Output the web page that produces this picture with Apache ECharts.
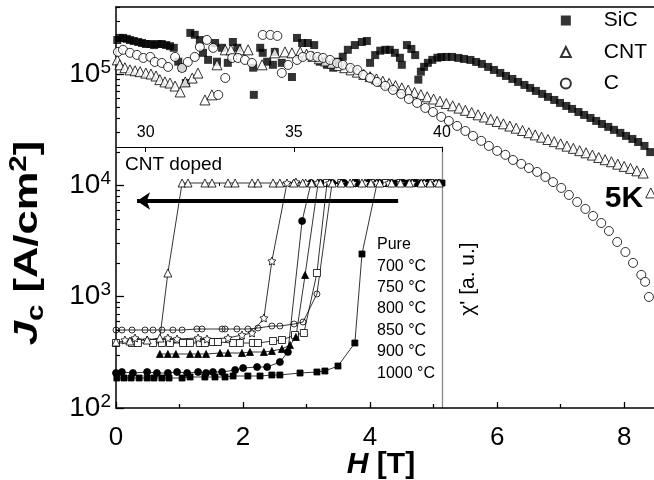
<!DOCTYPE html>
<html>
<head>
<meta charset="utf-8">
<script src="https://cdn.jsdelivr.net/npm/echarts@6/dist/echarts.min.js"></script>
<style>
  html, body { margin: 0; padding: 0; background: #fff; }
  #chart { width: 654px; height: 480px; }
</style>
</head>
<body>
<div id="chart"></div>
<script>
// ---- main panel: Jc(H) at 5 K, [H (T), Jc (A/cm2)]
var sicData = [
  [0.02,202000],[0.06,211000],[0.11,211000],[0.17,207000],[0.22,202000],[0.28,198000],[0.35,194000],[0.41,190000],[0.47,186000],[0.54,186000],
  [0.60,182000],[0.66,186000],[0.72,186000],[0.79,182000],[0.85,178000],[0.91,172000],[0.98,129000],[1.04,114000],[1.10,83000],[1.17,234000],
  [1.24,225000],[1.32,202000],[1.37,155000],[1.45,134000],[1.56,190000],[1.59,129000],[1.67,172000],[1.76,126000],[1.84,194000],[1.91,172000],
  [2.16,114000],[2.17,65000],[2.27,172000],[2.31,155000],[2.38,129000],[2.47,121000],[2.50,158000],[2.61,126000],[2.77,94000],[2.85,211000],
  [2.93,190000],[3.02,190000],[3.12,182000],[3.21,129000],[3.32,121000],[3.42,114000],[3.50,129000],[3.57,143000],[3.65,165000],[3.76,182000],
  [3.87,194000],[3.95,198000],[4.00,126000],[4.08,148000],[4.16,162000],[4.24,165000],[4.31,165000],[4.39,155000],[4.47,140000],[4.50,121000],
  [4.58,182000],[4.65,168000],[4.71,148000],[4.76,89000],[4.80,105000],[4.85,116000],[4.91,126000],[4.98,134000],[5.06,140000],[5.12,142000],
  [5.20,142400],[5.29,142400],[5.39,139500],[5.48,136600],[5.58,133800],[5.67,128400],[5.76,123200],[5.86,115800],[5.95,108800],[6.05,102300],
  [6.14,96100],[6.24,90300],[6.33,84900],[6.43,79800],[6.52,75000],[6.61,70500],[6.71,66300],[6.80,62300],[6.90,58500],[6.99,55000],
  [7.09,51700],[7.18,48600],[7.28,45600],[7.37,42900],[7.47,40300],[7.56,37900],[7.65,35600],[7.75,33500],[7.84,31500],[7.94,29600],
  [8.03,27800],[8.13,26100],[8.22,24500],[8.32,22600],[8.41,19900]
];
var cntData = [
  [0.02,134000],[0.06,121000],[0.14,114000],[0.22,109000],[0.30,107000],[0.38,105000],[0.47,102000],[0.55,100000],[0.63,96000],[0.69,89000],
  [0.77,85000],[0.85,83000],[0.93,78000],[1.01,69000],[1.09,85000],[1.20,92000],[1.29,102000],[1.40,58500],[1.51,65000],[1.59,121000],
  [1.72,165000],[1.81,165000],[1.95,165000],[2.08,165000],[2.30,121000],[2.50,155000],[2.66,158000],[2.77,155000],
  [2.9,158000],[3.0,151000],[3.1,144000],[3.2,137000],[3.3,131000],[3.4,125000],[3.5,119000],[3.6,114000],[3.7,109000],[3.8,104000],
  [3.9,99300],[4.0,94700],[4.1,90400],[4.2,86300],[4.3,82400],[4.4,78700],[4.5,75100],[4.6,71700],[4.7,68400],[4.8,65300],
  [4.9,62400],[5.0,59600],[5.1,56900],[5.2,54300],[5.3,51800],[5.4,49400],[5.5,47200],[5.6,45100],[5.7,43000],[5.8,41100],
  [5.9,39200],[6.0,37500],[6.1,35700],[6.2,34100],[6.3,32600],[6.4,31100],[6.5,29700],[6.6,28400],[6.7,27100],[6.8,25800],
  [6.9,24700],[7.0,23600],[7.1,22500],[7.2,21500],[7.3,20500],[7.4,19600],[7.5,18700],[7.6,17800],[7.7,17000],[7.8,16300],
  [7.9,15500],[8.0,14800],[8.1,14200],[8.2,13500],[8.3,12900],[8.42,8550]
];
var cData = [
  [0.03,158000],[0.11,165000],[0.22,155000],[0.33,148500],[0.43,139500],[0.54,142400],[0.61,128400],[0.72,125800],[0.82,115800],[0.93,142400],
  [1.04,113400],[1.13,128400],[1.24,142400],[1.32,175100],[1.43,202500],[1.53,171600],[1.61,64900],[1.72,92200],[1.83,139500],[1.92,139500],
  [2.03,133800],[2.14,125800],[2.31,224500],[2.43,224500],[2.54,220000],[2.61,102300],[2.71,120700],[2.85,133800],[2.94,142400],[3.06,145400],
  [3.17,142400],[3.26,139500],[3.37,133800],[3.48,125800],[3.57,120700],[3.69,113400],[3.80,108800],[3.89,98100],[4.00,92200],[4.11,84900],
  [4.24,78200],[4.36,72000],[4.49,66300],[4.61,59700],[4.74,55000],[4.87,49600],[4.99,45600],[5.12,41200],[5.24,37900],[5.37,34200],
  [5.50,30800],[5.62,27800],[5.75,25100],[5.87,22600],[6.00,20400],[6.13,18800],[6.25,16900],[6.38,15600],[6.50,14300],[6.63,13200],
  [6.76,11900],[6.88,10700],[7.01,9480],[7.13,8200],[7.26,7090],[7.39,6140],[7.51,5310],[7.64,4590],[7.76,3890],[7.89,3100],
  [8.02,2520],[8.14,2010],[8.27,1570],[8.33,1360],[8.39,994]
];
var mainNames = ['SiC', 'CNT', 'C'];

// ---- inset: chi'(T), [T (K), chi' (a.u., 0 = normal state)]
var chiPure = [
  [29.03,-0.975],[29.27,-0.975],[29.51,-0.975],[29.78,-0.975],[30.05,-0.975],[30.28,-0.975],[30.55,-0.975],[30.79,-0.975],[31.23,-0.975],[31.50,-0.97],
  [32.00,-0.97],[32.34,-0.97],[32.68,-0.97],[32.95,-0.965],[33.45,-0.965],[33.86,-0.965],[34.26,-0.96],[34.53,-0.96],[35.21,-0.95],[35.78,-0.945],
  [36.05,-0.94],[36.49,-0.915],[37.06,-0.80],[37.30,-0.355],[37.81,0],[38.1,0],[38.5,0],[38.9,0],[39.3,0],[39.7,0],[40.0,0]
];
var chi700 = [
  [29.00,-0.735],[29.20,-0.735],[29.54,-0.735],[29.98,-0.735],[30.25,-0.735],[30.55,-0.735],[30.92,-0.735],[31.23,-0.735],[31.73,-0.73],[31.90,-0.73],
  [32.58,-0.73],[32.68,-0.73],[33.08,-0.73],[33.45,-0.73],[33.79,-0.725],[34.26,-0.715],[34.53,-0.715],[35.01,-0.705],[35.31,-0.695],[35.78,-0.555],
  [36.29,0],[36.7,0],[37.1,0],[37.5,0],[37.9,0],[38.3,0],[38.7,0],[39.1,0],[39.5,0],[39.9,0]
];
var chi750 = [
  [29.00,-0.80],[29.54,-0.80],[29.74,-0.80],[30.25,-0.80],[30.55,-0.80],[30.82,-0.80],[31.26,-0.80],[31.50,-0.80],[31.83,-0.80],[32.00,-0.80],
  [32.27,-0.795],[32.44,-0.795],[32.95,-0.80],[33.18,-0.80],[33.62,-0.80],[33.79,-0.80],[34.30,-0.79],[34.60,-0.785],[35.04,-0.76],[35.34,-0.75],
  [35.78,-0.45],[36.12,0],[36.6,0],[37.1,0],[37.6,0],[38.1,0],[38.6,0],[39.1,0],[39.6,0]
];
var chi800 = [
  [30.48,-0.855],[30.75,-0.855],[31.02,-0.855],[31.50,-0.855],[31.77,-0.855],[32.04,-0.855],[32.51,-0.85],[32.78,-0.85],[33.25,-0.85],[33.52,-0.845],
  [33.99,-0.845],[34.26,-0.84],[34.60,-0.83],[34.87,-0.81],[35.07,-0.77],[35.38,-0.46],[35.82,0],[36.2,0],[36.6,0],[37.0,0],
  [37.4,0],[37.8,0],[38.2,0],[38.6,0],[39.0,0],[39.4,0],[39.8,0]
];
var chi850 = [
  [29.00,-0.95],[29.20,-0.945],[29.57,-0.95],[30.05,-0.945],[30.38,-0.95],[30.75,-0.95],[31.06,-0.945],[31.40,-0.95],[31.77,-0.945],[32.04,-0.95],
  [32.27,-0.945],[32.58,-0.945],[33.02,-0.935],[33.29,-0.925],[33.76,-0.92],[34.10,-0.92],[34.53,-0.895],[34.80,-0.845],[35.28,-0.19],[35.58,0],
  [35.9,0],[36.3,0],[36.7,0],[37.1,0],[37.5,0],[37.9,0],[38.3,0],[38.7,0],[39.1,0],[39.5,0],[39.9,0]
];
var chi900 = [
  [29.30,-0.785],[29.64,-0.775],[30.05,-0.785],[30.75,-0.775],[31.06,-0.78],[31.77,-0.775],[32.07,-0.78],[32.78,-0.775],[33.25,-0.76],[33.59,-0.75],
  [33.99,-0.675],[34.26,-0.39],[34.77,0],[35.07,0.005],[35.4,0],[35.8,0],[36.2,0],[36.6,0],[37.0,0],[37.4,0],
  [37.8,0],[38.2,0],[38.6,0],[39.0,0],[39.4,0],[39.8,0]
];
var chi1000 = [
  [29.00,-0.795],[29.47,-0.79],[30.05,-0.785],[30.48,-0.775],[30.75,-0.45],[31.23,0],[31.43,0],[32.00,0],[32.24,0],[32.78,0],
  [33.02,0],[33.59,0],[33.79,0],[34.30,0],[34.53,0],[35.0,0],[35.3,0],[35.6,0],[35.9,0],[36.3,0],
  [36.6,0],[36.9,0],[37.3,0],[37.6,0],[37.9,0],[38.3,0],[38.6,0],[38.9,0],[39.3,0],[39.6,0],[39.9,0]
];
var insetLabels = ['Pure', '700 \u00B0C', '750 \u00B0C', '800 \u00B0C', '850 \u00B0C', '900 \u00B0C', '1000 \u00B0C'];

// ---- axes
var xTicks = [0, 2, 4, 6, 8];
var xMinorTicks = [1, 3, 5, 7];
var yTicks = [100, 1000, 10000, 100000];
var yTickExp = ['2', '3', '4', '5'];
var yMinorTicks = [200,300,400,500,600,700,800,900, 2000,3000,4000,5000,6000,7000,8000,9000,
  20000,30000,40000,50000,60000,70000,80000,90000, 200000,300000,400000];
var tTicks = [30, 35, 40];
var tMinorTicks = [32.5, 37.5];
var arrowFrom = [38.52, -0.09];
var arrowTo = [29.71, -0.09];

var FONT = '"Liberation Sans", Arial, Helvetica, sans-serif';
var STAR = 'path://M0,-10L2.94,-4.05L9.51,-3.09L4.76,1.55L5.88,8.09L0,5L-5.88,8.09L-4.76,1.55L-9.51,-3.09L-2.94,-4.05Z';

var chart = echarts.init(document.getElementById('chart'));

function blackLine(w) {
    return { show: true, onZero: false, lineStyle: { color: '#000', width: w || 1.3 } };
}

function insetSeries(name, data, symbol, filled, size) {
    return {
        name: name,
        type: 'line',
        xAxisIndex: 3,
        yAxisIndex: 2,
        data: data,
        symbol: symbol,
        symbolSize: size || 6,
        showAllSymbol: true,
        lineStyle: { color: '#000', width: 0.8 },
        itemStyle: {
            color: filled === true ? '#000' : (filled === 'none' ? 'rgba(0,0,0,0)' : '#fff'),
            borderColor: '#000',
            borderWidth: 0.8
        },
        z: 3
    };
}

function centered(extra) {
    var s = { fontFamily: FONT, fill: '#000', align: 'center', textAlign: 'center', verticalAlign: 'middle', textVerticalAlign: 'middle' };
    for (var k in extra) s[k] = extra[k];
    return s;
}

var legendLabelY = [245, 267, 288, 309, 331, 352, 374];
var graphics = [
    { type: 'text', x: 125, y: 165, style: { text: 'CNT doped', fontSize: 19, fontFamily: FONT, fill: '#000', verticalAlign: 'middle', textVerticalAlign: 'middle' } },
    { type: 'text', x: 624, y: 199, style: centered({ text: '5K', fontSize: 30, fontWeight: 'bold' }) },
    { type: 'text', x: 468, y: 279, rotation: Math.PI / 2, style: centered({ text: "\u03C7' [a. u.]", fontSize: 21 }) },
    // axis titles
    { type: 'text', x: 381, y: 465, style: centered({
        text: '{h|H}{b| [T]}',
        rich: {
            h: { fontSize: 30, fontWeight: 'bold', fontStyle: 'italic', fontFamily: FONT },
            b: { fontSize: 30, fontWeight: 'bold', fontFamily: FONT }
        }
    }) },
    { type: 'text', x: 28, y: 243, rotation: Math.PI / 2, scaleX: 1.28, style: centered({
        text: '{j|J}{sub|c}{b| [A/cm}{sup|2}{b|]}',
        rich: {
            j: { fontSize: 34, fontWeight: 'bold', fontStyle: 'italic', lineHeight: 40, fontFamily: FONT },
            sub: { fontSize: 23, fontWeight: 'bold', lineHeight: 23, verticalAlign: 'bottom', fontFamily: FONT },
            b: { fontSize: 34, fontWeight: 'bold', lineHeight: 40, fontFamily: FONT },
            sup: { fontSize: 23, fontWeight: 'bold', lineHeight: 23, verticalAlign: 'top', fontFamily: FONT }
        }
    }) }
];
insetLabels.forEach(function (lab, i) {
    graphics.push({ type: 'text', x: 377, y: legendLabelY[i], style: { text: lab, fontSize: 16, fontFamily: FONT, fill: '#000', verticalAlign: 'middle', textVerticalAlign: 'middle' } });
});

var option = {
    animation: false,
    textStyle: { fontFamily: FONT, color: '#000' },
    grid: [
        { left: 116, top: 7, right: 0, bottom: 72, outerBoundsMode: 'none', containLabel: false },
        { left: 116, top: 147, width: 326, height: 261, outerBoundsMode: 'none', containLabel: false }
    ],
    legend: {
        data: mainNames,
        orient: 'vertical',
        right: 7,
        top: 10,
        padding: 0,
        itemGap: 10.5,
        itemWidth: 10,
        itemHeight: 10,
        textStyle: { fontSize: 21, color: '#000', fontFamily: FONT, padding: [0, 0, 0, 28] }
    },
    xAxis: [
        {
            gridIndex: 0, type: 'value', position: 'bottom', min: 0, max: 8.47,
            axisLine: blackLine(1.5),
            axisTick: { inside: true, length: 6, customValues: xTicks, lineStyle: { color: '#000', width: 1.3 } },
            axisLabel: { customValues: xTicks, fontSize: 26, color: '#000', margin: 17 },
            splitLine: { show: false }
        },
        {
            gridIndex: 0, type: 'value', position: 'bottom', min: 0, max: 8.47,
            axisLine: { show: false },
            axisTick: { inside: true, length: 4, customValues: xMinorTicks, lineStyle: { color: '#000', width: 1.3 } },
            axisLabel: { show: false }, splitLine: { show: false }
        },
        {
            gridIndex: 0, type: 'value', position: 'top', min: 0, max: 8.47,
            axisLine: blackLine(1.5), axisTick: { show: false }, axisLabel: { show: false }, splitLine: { show: false }
        },
        {
            gridIndex: 1, type: 'value', position: 'top', min: 29, max: 40,
            axisLine: blackLine(1),
            axisTick: { inside: true, length: 5, customValues: tTicks, lineStyle: { color: '#000', width: 1 } },
            axisLabel: { customValues: tTicks, fontSize: 16, color: '#000', margin: 6 },
            splitLine: { show: false }
        },
        {
            gridIndex: 1, type: 'value', position: 'top', min: 29, max: 40,
            axisLine: { show: false },
            axisTick: { inside: true, length: 3, customValues: tMinorTicks, lineStyle: { color: '#000', width: 1 } },
            axisLabel: { show: false }, splitLine: { show: false }
        }
    ],
    yAxis: [
        {
            gridIndex: 0, type: 'log', logBase: 10, position: 'left', min: 100, max: 400000,
            axisLine: blackLine(1.5),
            axisTick: { inside: true, length: 8, customValues: yTicks, lineStyle: { color: '#000', width: 1.3 } },
            axisLabel: {
                customValues: yTicks, margin: 5, color: '#000',
                formatter: function (v) {
                    var i = yTicks.indexOf(v);
                    return '{b|10}{s|' + (i >= 0 ? yTickExp[i] : '') + '}';
                },
                rich: {
                    b: { fontSize: 28, lineHeight: 32, fontFamily: FONT },
                    s: { fontSize: 19, lineHeight: 19, verticalAlign: 'top', fontFamily: FONT }
                }
            },
            splitLine: { show: false }
        },
        {
            gridIndex: 0, type: 'log', logBase: 10, position: 'left', min: 100, max: 400000,
            axisLine: { show: false },
            axisTick: { inside: true, length: 4, customValues: yMinorTicks, lineStyle: { color: '#000', width: 1.2 } },
            axisLabel: { show: false }, splitLine: { show: false }
        },
        {
            gridIndex: 1, type: 'value', position: 'right', min: -1.125, max: 0.18,
            axisLine: { show: true, onZero: false, lineStyle: { color: '#888', width: 1.3 } },
            axisTick: { show: false }, axisLabel: { show: false }, splitLine: { show: false }
        }
    ],
    graphic: graphics,
    series: [
        {
            name: 'SiC', type: 'scatter', xAxisIndex: 0, yAxisIndex: 0, data: sicData,
            symbol: 'rect', symbolSize: 8, itemStyle: { color: '#000' }, z: 4
        },
        {
            name: 'CNT', type: 'scatter', xAxisIndex: 0, yAxisIndex: 0, data: cntData,
            symbol: 'triangle', symbolSize: 10, itemStyle: { color: '#fff', borderColor: '#000', borderWidth: 1 }, z: 4
        },
        {
            name: 'C', type: 'scatter', xAxisIndex: 0, yAxisIndex: 0, data: cData,
            symbol: 'circle', symbolSize: 9, itemStyle: { color: '#fff', borderColor: '#000', borderWidth: 1 }, z: 4
        },
        insetSeries(insetLabels[0], chiPure, 'rect', true, 6),
        insetSeries(insetLabels[1], chi700, 'circle', 'none', 6),
        insetSeries(insetLabels[2], chi750, 'rect', false, 7),
        insetSeries(insetLabels[3], chi800, 'triangle', true, 7),
        insetSeries(insetLabels[4], chi850, 'circle', true, 7),
        insetSeries(insetLabels[5], chi900, STAR, false, 8),
        (function () {
            var s = insetSeries(insetLabels[6], chi1000, 'triangle', false, 8);
            s.markLine = {
                silent: true,
                symbol: ['none', 'arrow'],
                symbolSize: 13,
                label: { show: false },
                lineStyle: { color: '#000', width: 4, type: 'solid' },
                data: [[{ coord: arrowFrom }, { coord: arrowTo }]]
            };
            return s;
        })()
    ]
};

chart.setOption(option);
</script>
</body>
</html>
